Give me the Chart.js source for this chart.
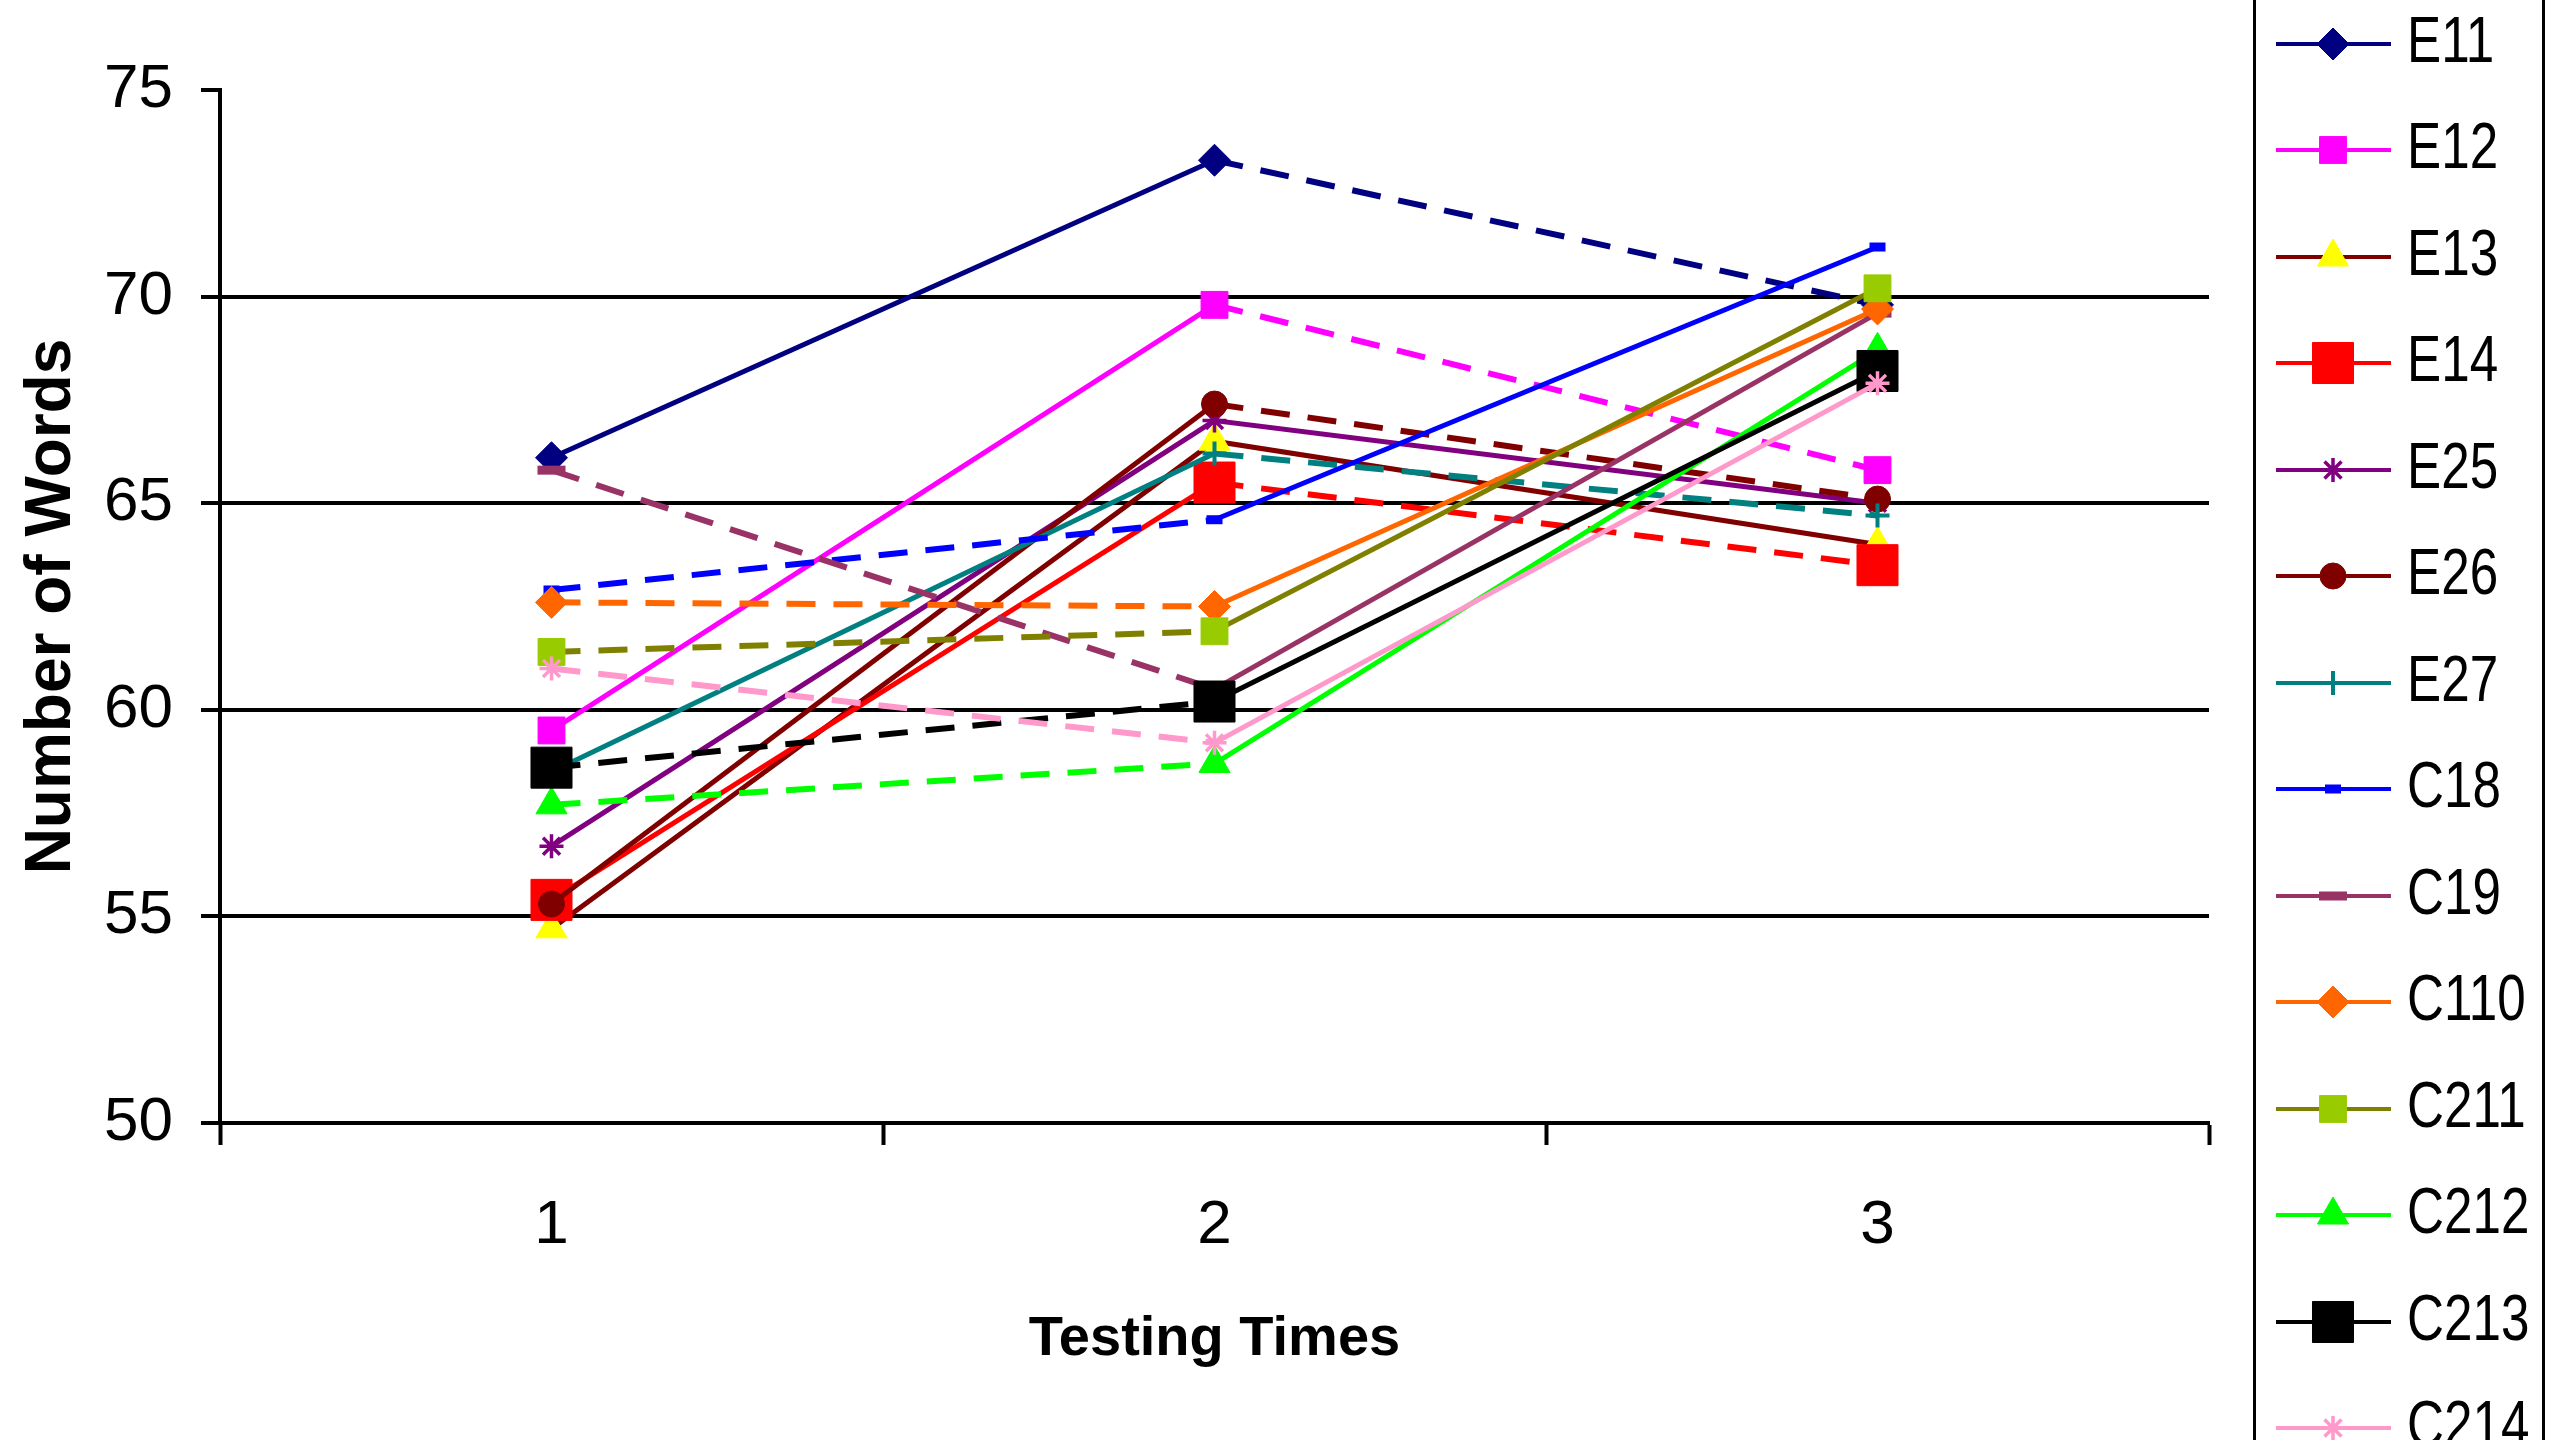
<!DOCTYPE html>
<html>
<head>
<meta charset="utf-8">
<title>Number of Words by Testing Times</title>
<script src="https://cdn.jsdelivr.net/npm/chart.js@4.4.1/dist/chart.umd.min.js"></script>
<style>
html,body{margin:0;padding:0;background:#fff;overflow:hidden;}
#wrap{position:relative;width:2560px;height:1440px;overflow:hidden;}
#chartBox{position:absolute;left:0;top:0;width:2560px;height:1440px;}
#legend{position:absolute;left:2253px;top:-20px;width:286px;height:1600px;border:3px solid #000;background:#fff;}
.item{position:absolute;left:0;width:286px;height:60px;}
.item canvas{position:absolute;left:20px;top:0;}
.item span{position:absolute;left:151px;top:-6px;font:64px "Liberation Sans",Arial,sans-serif;line-height:64px;color:#000;white-space:nowrap;transform:scaleX(0.8);transform-origin:0 0;}
</style>
</head>
<body>
<div id="wrap">
  <div id="chartBox"><canvas id="wordsChart"></canvas></div>
  <div id="legend"></div>
</div>
<script>
// -------------------------------
// Data
// -------------------------------

const testingTimes = ["1", "2", "3"];

const seriesNames = ["E11", "E12", "E13", "E14", "E25", "E26", "E27",
                     "C18", "C19", "C110", "C211", "C212", "C213", "C214"];

const e11  = [66.1, 73.3, 69.8];
const e12  = [59.5, 69.8, 65.8];
const e13  = [54.7, 66.5, 64.0];
const e14  = [55.4, 65.5, 63.5];
const e25  = [56.7, 67.0, 65.0];
const e26  = [55.3, 67.4, 65.1];
const e27  = [58.5, 66.2, 64.7];
const c18  = [62.9, 64.6, 71.2];
const c19  = [65.8, 60.5, 69.6];
const c110 = [62.6, 62.5, 69.7];
const c211 = [61.4, 61.9, 70.2];
const c212 = [57.7, 58.7, 68.7];
const c213 = [58.6, 60.2, 68.2];
const c214 = [61.0, 59.2, 67.9];

const seriesValues = [e11, e12, e13, e14, e25, e26, e27,
                      c18, c19, c110, c211, c212, c213, c214];

const yMin = 50;
const yMax = 75;
const yStep = 5;

// -------------------------------
// Look of each series
// dash: which segment (1->2, 2->3) is dashed
// -------------------------------

const looks = [
  {line:"#000080", mark:"#000080", shape:"rectRot",  r:16, bw:1,   dash:[0,1]},
  {line:"#FF00FF", mark:"#FF00FF", shape:"rect",     r:19, bw:1,   dash:[0,1]},
  {line:"#800000", mark:"#FFFF00", shape:"triangle", r:18, bw:1,   dash:[0,0]},
  {line:"#FF0000", mark:"#FF0000", shape:"rect",     r:29, bw:1,   dash:[0,1]},
  {line:"#800080", mark:"#800080", shape:"star",     r:12, bw:3.5, dash:[0,0]},
  {line:"#800000", mark:"#800000", shape:"circle",   r:13, bw:1,   dash:[0,1]},
  {line:"#008080", mark:"#008080", shape:"cross",    r:12, bw:4,   dash:[0,1]},
  {line:"#0000FF", mark:"#0000FF", shape:"line",     r:8,  bw:9,   dash:[1,0]},
  {line:"#993366", mark:"#993366", shape:"line",     r:14, bw:9,   dash:[1,0]},
  {line:"#FF6600", mark:"#FF6600", shape:"rectRot",  r:16, bw:1,   dash:[1,0]},
  {line:"#808000", mark:"#99CC00", shape:"rect",     r:19, bw:1,   dash:[1,0]},
  {line:"#00FF00", mark:"#00FF00", shape:"triangle", r:18, bw:1,   dash:[1,0]},
  {line:"#000000", mark:"#000000", shape:"rect",     r:29, bw:1,   dash:[1,0]},
  {line:"#FF99CC", mark:"#FF99CC", shape:"star",     r:12, bw:3.5, dash:[1,0]}
];

const plain = '"Liberation Sans", Arial, sans-serif';

// -------------------------------
// Datasets
// -------------------------------

const datasets = seriesNames.map(function(name, i){

  const s = looks[i];

  return {
    label: name,
    data: seriesValues[i],
    order: seriesNames.length - i,
    borderColor: s.line,
    backgroundColor: s.mark,
    borderWidth: 5,
    tension: 0,
    pointStyle: s.shape,
    pointRadius: s.r,
    pointHoverRadius: s.r,
    pointBackgroundColor: s.mark,
    pointBorderColor: s.mark,
    pointBorderWidth: s.bw,
    segment: {
      borderDash: ctx => s.dash[ctx.p0DataIndex] ? [29, 18] : undefined,
      borderWidth: ctx => s.dash[ctx.p0DataIndex] ? 6 : 5
    }
  };

});

// -------------------------------
// Chart
// -------------------------------

const wordsChart = new Chart(document.getElementById("wordsChart"), {
  type: "line",
  data: {
    labels: testingTimes,
    datasets: datasets
  },
  options: {
    responsive: true,
    maintainAspectRatio: false,
    animation: false,
    layout: {
      padding: {top: 90, right: 351, bottom: 0, left: 0}
    },
    plugins: {
      legend: {display: false},
      tooltip: {enabled: false}
    },
    scales: {
      x: {
        type: "category",
        offset: true,
        afterFit: function(scale){ scale.height = 317; },
        grid: {
          offset: true,
          drawOnChartArea: false,
          drawTicks: true,
          tickLength: 22,
          tickColor: "#000",
          tickWidth: 4
        },
        border: {display: true, color: "#000", width: 4},
        ticks: {
          color: "#000",
          padding: 44,
          font: {family: plain, size: 62}
        },
        title: {
          display: true,
          text: "Testing Times",
          color: "#000",
          padding: {top: 0, bottom: 67},
          font: {family: plain, size: 56, weight: "bold"}
        }
      },
      y: {
        type: "linear",
        min: yMin,
        max: yMax,
        afterFit: function(scale){ scale.width = 220; },
        grid: {
          color: ctx => (ctx.tick && ctx.tick.value === yMax) ? "rgba(0,0,0,0)" : "#000",
          lineWidth: 4,
          drawTicks: true,
          tickLength: 19,
          tickColor: "#000",
          tickWidth: 4
        },
        border: {display: true, color: "#000", width: 4},
        ticks: {
          stepSize: yStep,
          color: "#000",
          padding: 28,
          font: {family: plain, size: 62}
        },
        title: {
          display: true,
          text: "Number of Words",
          color: "#000",
          padding: {top: 14, bottom: 0},
          font: {family: plain, size: 64, weight: "bold"}
        }
      }
    }
  }
});

// -------------------------------
// Legend (box on the right, runs off the bottom)
// -------------------------------

const legend = document.getElementById("legend");

seriesNames.forEach(function(name, i){

  const s = looks[i];

  const item = document.createElement("div");
  item.className = "item";
  item.style.top = (30.6 + 106.5 * i) + "px";

  const cv = document.createElement("canvas");
  cv.width = 120;
  cv.height = 60;
  const c = cv.getContext("2d");

  c.strokeStyle = s.line;
  c.lineWidth = 4;
  c.beginPath();
  c.moveTo(0, 30);
  c.lineTo(115, 30);
  c.stroke();

  if (Chart.helpers && Chart.helpers.drawPoint) {
    c.fillStyle = s.mark;
    c.strokeStyle = s.mark;
    c.lineWidth = s.bw;
    Chart.helpers.drawPoint(c, {pointStyle: s.shape, radius: s.r, rotation: 0, borderWidth: s.bw}, 57, 30);
  }

  const label = document.createElement("span");
  label.textContent = name;

  item.appendChild(cv);
  item.appendChild(label);
  legend.appendChild(item);

});
</script>
</body>
</html>
